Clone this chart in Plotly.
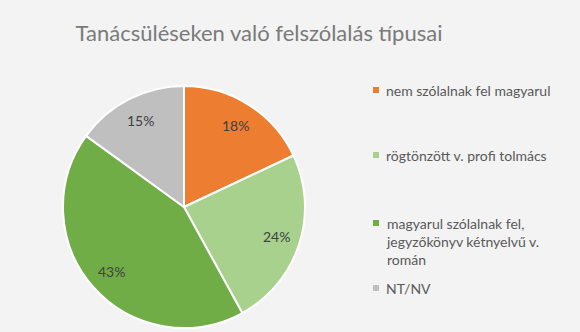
import math
import plotly.graph_objects as go

# Category labels, shares (percent) and slice colours
labels = [
    "nem szólalnak fel magyarul",
    "rögtönzött v. profi tolmács",
    "magyarul szólalnak fel,<br>jegyzőkönyv kétnyelvű v.<br>román",
    "NT/NV",
]
shares = [18, 24, 43, 15]
colors = ["#ED7D31", "#A9D18E", "#70AD47", "#BFBFBF"]
title_text = "Tanácsüléseken való felszólalás típusai"

W, H = 580, 332
FONT = "Lato, 'Open Sans', sans-serif"

# Pie placement in pixels (centre and radius) -> paper domain
CX, CY, R = 184, 207, 121
dom_x = [(CX - R) / W, (CX + R) / W]
dom_y = [1 - (CY + R) / H, 1 - (CY - R) / H]

fig = go.Figure()
fig.add_trace(go.Pie(
    labels=labels,
    values=shares,
    sort=False,
    direction="clockwise",
    rotation=0,
    marker=dict(colors=colors, line=dict(color="white", width=2)),
    textinfo="none",
    domain=dict(x=dom_x, y=dom_y),
    showlegend=False,
    hoverinfo="label+percent",
))

annotations = []
shapes = []

# Percentage labels placed at 80% of the radius on each slice's bisector
total = sum(shares)
cum = 0
for v in shares:
    mid = (cum + v / 2) / total * 2 * math.pi
    cum += v
    px = CX + 0.8 * R * math.sin(mid)
    py = CY - 0.8 * R * math.cos(mid)
    annotations.append(dict(
        text=f"{v}%", xref="paper", yref="paper",
        x=px / W, y=1 - py / H, xanchor="center", yanchor="middle",
        showarrow=False,
        font=dict(family=FONT, size=14, color="#404040"),
    ))

# Legend drawn as paper-positioned squares and labels, spread down the right side
legend_y = [90, 155, 223, 288]  # pixel row of each entry's first line
for lab, col, yp in zip(labels, colors, legend_y):
    yc = 1 - yp / H
    shapes.append(dict(
        type="rect", xref="paper", yref="paper",
        x0=373 / W, x1=379 / W, y0=yc - 3 / H, y1=yc + 3 / H,
        fillcolor=col, line=dict(width=0),
    ))
    annotations.append(dict(
        text=lab, xref="paper", yref="paper",
        x=384 / W, y=yc + 10 / H, xanchor="left", yanchor="top",
        align="left", showarrow=False,
        font=dict(family=FONT, size=14, color="#595959"),
    ))

fig.update_layout(
    width=W, height=H,
    margin=dict(l=0, r=0, t=0, b=0),
    paper_bgcolor="#f3f3f3",
    plot_bgcolor="#f3f3f3",
    title=dict(
        text=title_text, x=259 / W, xanchor="center", y=1 - 33 / H, yanchor="middle",
        font=dict(family=FONT, size=22, color="#7a7a7a"),
    ),
    shapes=shapes,
    annotations=annotations,
)

fig.write_html("out.html")
